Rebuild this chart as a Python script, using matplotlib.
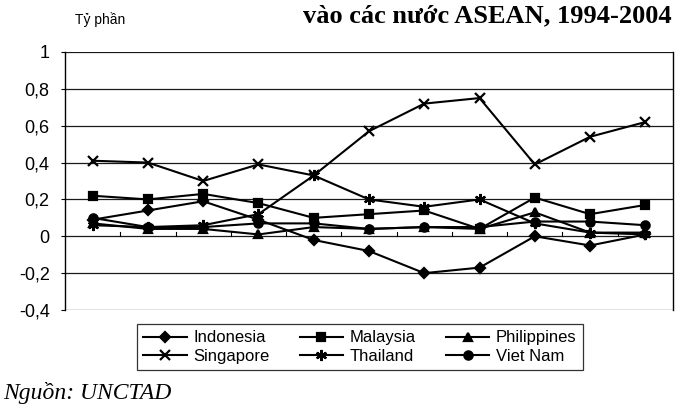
import matplotlib
matplotlib.use("Agg")
import matplotlib.pyplot as plt
import numpy as np

# Share of FDI inflows, 1994-2004
years = ["1994", "1995", "1996", "1997", "1998", "1999",
         "2000", "2001", "2002", "2003", "2004"]
indonesia = [0.09, 0.14, 0.19, 0.09, -0.02, -0.08, -0.20, -0.17, 0.00, -0.05, 0.01]
malaysia = [0.22, 0.20, 0.23, 0.18, 0.10, 0.12, 0.14, 0.04, 0.21, 0.12, 0.17]
philippines = [0.07, 0.04, 0.04, 0.01, 0.05, 0.04, 0.05, 0.04, 0.13, 0.02, 0.02]
singapore = [0.41, 0.40, 0.30, 0.39, 0.33, 0.57, 0.72, 0.75, 0.39, 0.54, 0.62]
thailand = [0.06, 0.05, 0.06, 0.12, 0.33, 0.20, 0.16, 0.20, 0.07, 0.02, 0.01]
vietnam = [0.10, 0.05, 0.05, 0.07, 0.07, 0.04, 0.05, 0.05, 0.08, 0.08, 0.06]

y_ticks = [1.0, 0.8, 0.6, 0.4, 0.2, 0.0, -0.2, -0.4]
y_ticklabels = ["1", "0,8", "0,6", "0,4", "0,2", "0", "-0,2", "-0,4"]

plt.rcParams["font.family"] = ["Liberation Sans", "DejaVu Sans"]

fig = plt.figure(figsize=(6.8, 4.04), dpi=100)
W, H = 680, 404
ax = fig.add_axes([65 / W, 1 - 310 / H, (673 - 65) / W, (310 - 52) / H])

x = np.arange(len(years))
asterisk = (6, 2, 0)
series = [
    ("Indonesia", indonesia, "D", 5.5),
    ("Singapore", singapore, "x", 7),
    ("Malaysia", malaysia, "s", 6),
    ("Thailand", thailand, asterisk, 8),
    ("Philippines", philippines, "^", 6),
    ("Viet Nam", vietnam, "o", 6),
]
handles = []
for name, vals, mk, ms in series:
    (h,) = ax.plot(x, vals, color="black", lw=1.5, marker=mk, ms=ms,
                   mfc="black", mec="black", mew=1.6, label=name)
    handles.append(h)

# horizontal grid and frame
for yv in y_ticks:
    ax.axhline(yv, color="#1a1a1a", lw=0.9, zorder=0)
ax.set_xlim(-0.5, len(years) - 0.5)
ax.set_ylim(-0.4, 1.0)
for s in ["top", "bottom"]:
    ax.spines[s].set_visible(False)
ax.spines["left"].set_linewidth(1.0)
ax.spines["right"].set_linewidth(1.0)
ax.set_xticks([])
ax.set_yticks(y_ticks)
ax.set_yticklabels(y_ticklabels, fontsize=13)
ax.tick_params(axis="y", length=3, width=0.8, pad=8)

# category tick marks on the zero line
for b in np.arange(0.5, len(years) - 0.5, 1.0):
    ax.plot([b, b], [0.0, 0.025], color="black", lw=0.8, zorder=1)

# legend
leg = fig.legend(handles=handles, loc="center", ncol=3,
                 bbox_to_anchor=(360 / W, 1 - 347 / H),
                 frameon=True, fancybox=False, edgecolor="black",
                 fontsize=12, handlelength=2.6, columnspacing=1.8,
                 labelspacing=0.2, borderpad=0.4, handletextpad=0.4)
leg.get_frame().set_linewidth(0.9)

# annotations
fig.text(75 / W, 1 - 20 / H, "Tỷ phần", fontsize=10, ha="left", va="center")
fig.text(672 / W, 1 - 22 / H, "vào các nước ASEAN, 1994-2004",
         fontsize=19, fontweight="bold", family="Liberation Serif",
         ha="right", va="baseline")
fig.text(3 / W, 5 / H, "Nguồn: UNCTAD", fontsize=17, style="italic",
         family="Liberation Serif", ha="left", va="baseline")

fig.savefig("out.png", dpi=100)
